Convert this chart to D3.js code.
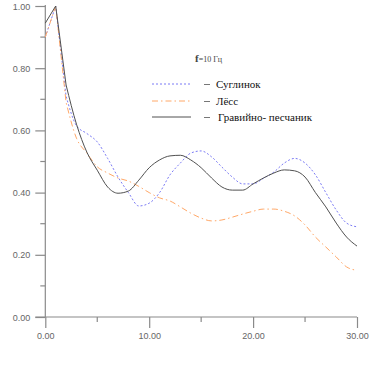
<!DOCTYPE html>
<html>
<head>
<meta charset="utf-8">
<script src="https://cdn.jsdelivr.net/npm/d3@7"></script>
<style>
  body { margin: 0; background: #fff; }
  svg { display: block; }
</style>
</head>
<body>
<svg id="chart"></svg>
<script>
const xs = d3.range(0, 31);

// Суглинок
const suglinok = [0.90, 1.00, 0.71, 0.615, 0.59, 0.563, 0.51, 0.45, 0.40, 0.357, 0.366, 0.40,
  0.457, 0.495, 0.527, 0.534, 0.515, 0.482, 0.45, 0.428, 0.428, 0.446, 0.466, 0.495,
  0.51, 0.495, 0.457, 0.40, 0.344, 0.302, 0.29];
// Лёсс
const less = [0.90, 1.00, 0.69, 0.575, 0.527, 0.483, 0.463, 0.447, 0.437, 0.42, 0.40, 0.383,
  0.373, 0.354, 0.334, 0.318, 0.309, 0.312, 0.321, 0.331, 0.34, 0.347, 0.347, 0.34,
  0.325, 0.296, 0.257, 0.225, 0.193, 0.161, 0.15];
// Гравийно-песчаник
const gravel = [0.945, 1.00, 0.746, 0.62, 0.53, 0.472, 0.418, 0.398, 0.405, 0.44, 0.48, 0.505,
  0.518, 0.52, 0.505, 0.48, 0.447, 0.418, 0.408, 0.408, 0.428, 0.447, 0.463, 0.473,
  0.47, 0.45, 0.40, 0.354, 0.302, 0.257, 0.228];

const seriesNames = ["Суглинок", "Лёсс", "Гравийно- песчаник"];
const xTicks = [0, 10, 20, 30];
const yTicks = [0, 0.2, 0.4, 0.6, 0.8, 1.0];

const width = 385, height = 380;
const margin = { top: 6, right: 28, bottom: 63, left: 45 };

const svg = d3.select("#chart")
  .attr("width", width)
  .attr("height", height);

const xScale = d3.scaleLinear()
  .domain([0, 30])
  .range([margin.left + 0.3, width - margin.right]);

const yScale = d3.scaleLinear()
  .domain([0, 1])
  .range([height - margin.bottom, margin.top]);

const axisColor = "#8a8a8a";
const textColor = "#666";

// y axis: major ticks + minor ticks
const yAxis = d3.axisLeft(yScale)
  .tickValues(yTicks)
  .tickFormat(d3.format(".2f"))
  .tickSize(10)
  .tickPadding(5);

const yAxisGroup = svg.append("g")
  .attr("transform", `translate(${xScale(0)},0)`)
  .call(yAxis);

yAxisGroup.append("g")
  .selectAll("line")
  .data([0.1, 0.3, 0.5, 0.7, 0.9])
  .join("line")
  .attr("x1", -5).attr("x2", 0)
  .attr("y1", d => yScale(d)).attr("y2", d => yScale(d));

const xAxis = d3.axisBottom(xScale)
  .tickValues(xTicks)
  .tickFormat(d3.format(".2f"))
  .tickSize(11)
  .tickPadding(5);

const xAxisGroup = svg.append("g")
  .attr("transform", `translate(0,${yScale(0)})`)
  .call(xAxis);

xAxisGroup.append("g")
  .selectAll("line")
  .data([5, 15, 25])
  .join("line")
  .attr("x1", d => xScale(d)).attr("x2", d => xScale(d))
  .attr("y1", 0).attr("y2", 5);

// extend x axis line to the left of y axis
xAxisGroup.select(".domain").remove();
xAxisGroup.append("line")
  .attr("x1", xScale(0) - 10).attr("x2", xScale(30))
  .attr("y1", 0).attr("y2", 0);
yAxisGroup.select(".domain").remove();
yAxisGroup.append("line")
  .attr("x1", 0).attr("x2", 0)
  .attr("y1", yScale(1) - 1).attr("y2", yScale(0));

svg.selectAll("g line").attr("stroke", axisColor).attr("stroke-width", 1.2);
svg.selectAll("g text")
  .attr("fill", textColor)
  .style("font-family", "'Liberation Sans', Arial, sans-serif")
  .style("font-size", "9px");
yAxisGroup.selectAll(".tick text").attr("dy", "0.35em");

// series
const series = [
  { name: seriesNames[0], values: suglinok, color: "#7b7bf5", dash: "2,2", width: 1 },
  { name: seriesNames[1], values: less, color: "#ffa868", dash: "6,3,1.5,3", width: 1 },
  { name: seriesNames[2], values: gravel, color: "#505050", dash: null, width: 1 }
];

// straight segment up to the peak, smooth curve after it
const points = vals => vals.map((v, i) => [xs[i], v]);
const lineStraight = d3.line()
  .x(d => xScale(d[0]))
  .y(d => yScale(d[1]));
const lineSmooth = d3.line()
  .x(d => xScale(d[0]))
  .y(d => yScale(d[1]))
  .curve(d3.curveMonotoneX);

svg.append("g")
  .selectAll("path")
  .data(series)
  .join("path")
  .attr("fill", "none")
  .attr("stroke", d => d.color)
  .attr("stroke-width", d => d.width)
  .attr("stroke-dasharray", d => d.dash)
  .attr("d", d => {
    const p = points(d.values);
    return lineStraight(p.slice(0, 3)) + lineSmooth(p.slice(2)).replace(/^M[^A-Za-z]*/, "");
  });

// legend
const legend = svg.append("g");

const title = legend.append("text")
  .attr("x", 195).attr("y", 62)
  .style("font-family", "'Liberation Serif', 'Times New Roman', serif")
  .attr("fill", "#444");
title.append("tspan").text("f").style("font-size", "11px").style("font-weight", "bold");
title.append("tspan").text("=10 Гц").style("font-size", "8px");

const rowY = [84, 101, 117];
const rows = legend.selectAll("g.row")
  .data(series)
  .join("g")
  .attr("class", "row")
  .attr("transform", (d, i) => `translate(0,${rowY[i]})`);

rows.append("line")
  .attr("x1", 152).attr("x2", 191)
  .attr("y1", 0).attr("y2", 0)
  .attr("stroke", d => d.color)
  .attr("stroke-width", 1)
  .attr("stroke-dasharray", d => d.dash);

rows.append("line")
  .attr("x1", 204).attr("x2", 210)
  .attr("y1", 0.5).attr("y2", 0.5)
  .attr("stroke", "#777")
  .attr("stroke-width", 1);

rows.append("text")
  .attr("x", (d, i) => i === 2 ? 218 : 216)
  .attr("y", 4)
  .attr("fill", "#111")
  .style("font-family", "'Liberation Serif', 'Times New Roman', serif")
  .style("font-size", "11px")
  .text(d => d.name);
</script>
</body>
</html>
